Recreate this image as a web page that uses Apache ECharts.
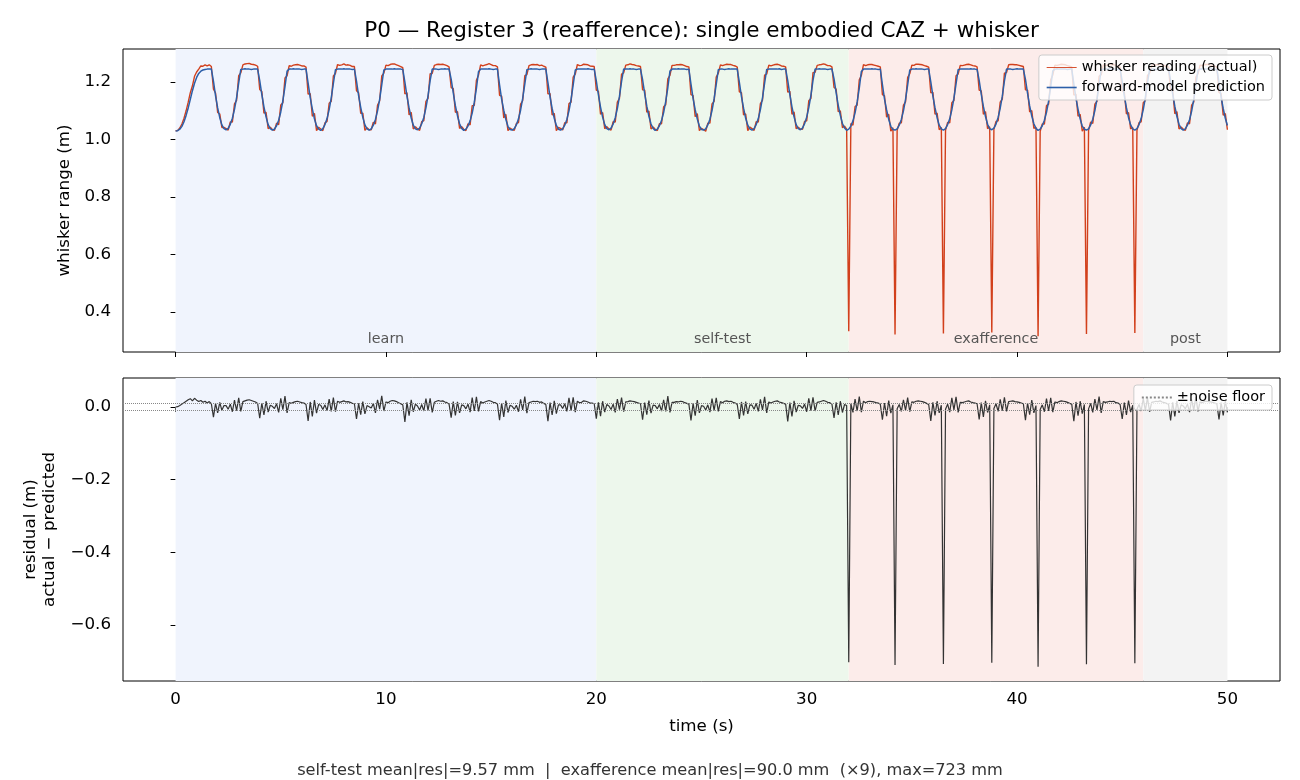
<!DOCTYPE html>
<html>
<head>
    <meta charset="utf-8">
    <title>P0 reafference</title>
    <script src="https://cdn.jsdelivr.net/npm/echarts@6.0.0/dist/echarts.min.js"></script>
    <style type="text/css">
        body{ margin:0; background:#fff; }
        #main{ width:1300px; height:780px; }
    </style>
</head>
<body>
<div id="main"></div>
<script type="text/javascript">
// sample step of the traces (s)
var dt = 0.1;

// forward-model prediction (m), one line per whisk cycle
var predicted = [
    1.030,1.031,1.036,1.046,1.062,1.084,1.110,1.140,1.170,1.196,1.216,1.230,1.238,1.242,1.244,1.245,1.245,1.245,1.203,1.152,1.110,1.076,1.051,1.038,
    1.034,1.039,1.053,1.074,1.105,1.146,1.197,1.244,1.245,1.246,1.245,1.245,1.244,1.245,1.245,1.245,1.205,1.156,1.114,1.079,1.052,1.038,
    1.033,1.036,1.048,1.067,1.096,1.135,1.184,1.238,1.245,1.245,1.246,1.245,1.245,1.245,1.244,1.245,1.245,1.196,1.146,1.107,1.072,1.048,1.036,
    1.032,1.038,1.052,1.073,1.104,1.145,1.195,1.243,1.245,1.245,1.245,1.246,1.245,1.245,1.245,1.244,1.245,1.203,1.153,1.112,1.077,1.051,1.037,
    1.033,1.037,1.050,1.070,1.100,1.140,1.190,1.242,1.245,1.245,1.245,1.245,1.246,1.245,1.245,1.245,1.244,1.200,1.150,1.110,1.075,1.050,1.037,
    1.034,1.040,1.055,1.077,1.110,1.152,1.205,1.245,1.245,1.245,1.244,1.245,1.245,1.246,1.245,1.245,1.210,1.162,1.118,1.083,1.055,1.039,
    1.032,1.036,1.047,1.065,1.092,1.130,1.178,1.236,1.245,1.245,1.245,1.245,1.246,1.245,1.244,1.245,1.245,1.190,1.140,1.102,1.070,1.046,1.035,
    1.033,1.038,1.051,1.072,1.102,1.143,1.193,1.243,1.245,1.246,1.245,1.245,1.245,1.244,1.245,1.245,1.245,1.198,1.148,1.108,1.074,1.049,1.036,
    1.033,1.037,1.050,1.070,1.100,1.140,1.190,1.242,1.245,1.245,1.245,1.245,1.245,1.246,1.245,1.244,1.245,1.204,1.155,1.113,1.078,1.052,1.038,
    1.034,1.040,1.054,1.076,1.108,1.150,1.202,1.245,1.245,1.245,1.246,1.245,1.245,1.244,1.245,1.245,1.208,1.160,1.116,1.081,1.054,1.039,
    1.032,1.036,1.048,1.066,1.094,1.133,1.181,1.238,1.245,1.245,1.245,1.246,1.245,1.245,1.245,1.244,1.245,1.193,1.143,1.104,1.071,1.047,1.035,
    1.033,1.037,1.051,1.071,1.101,1.142,1.192,1.243,1.245,1.245,1.244,1.245,1.246,1.245,1.245,1.245,1.245,1.199,1.149,1.109,1.074,1.050,1.037,
    1.033,1.038,1.052,1.073,1.104,1.145,1.196,1.244,1.245,1.245,1.245,1.245,1.245,1.246,1.244,1.245,1.245,1.205,1.156,1.114,1.079,1.052,1.038,
    1.034,1.040,1.055,1.078,1.111,1.153,1.206,1.245,1.245,1.246,1.245,1.245,1.245,1.244,1.245,1.245,1.211,1.163,1.119,1.084,1.056,1.040,
    1.032,1.036,1.047,1.065,1.093,1.131,1.179,1.237,1.245,1.245,1.245,1.245,1.246,1.245,1.245,1.244,1.245,1.191,1.141,1.103,1.070,1.046,1.035,
    1.033,1.037,1.050,1.070,1.100,1.140,1.190,1.242,1.245,1.245,1.246,1.245,1.245,1.245,1.244,1.245,1.245,1.201,1.151,1.111,1.076,1.050,1.037,
    1.033,1.038,1.052,1.072,1.103,1.144,1.194,1.243,1.245,1.245,1.245,1.245,1.245,1.246,1.245,1.245,1.244,1.206,1.157,1.115,1.080,1.053,1.038,
    1.034,1.040,1.054,1.077,1.109,1.151,1.204,1.245,1.245,1.245,1.244,1.245,1.246,1.245,1.245,1.245,1.209,1.161,1.117,1.082,1.055,1.039,
    1.032,1.036,1.048,1.067,1.095,1.134,1.183,1.239,1.245,1.246,1.245,1.245,1.245,1.245,1.244,1.245,1.245,1.194,1.144,1.105,1.072,1.047,1.036,
    1.033,1.037,1.051,1.071,1.101,1.141,1.191,1.242,1.245,1.245,1.245,1.246,1.245,1.245,1.245,1.244,1.245,1.202,1.152,1.111,1.076,1.051,1.037,
    1.033,1.038,1.052,1.073,1.104,1.146,1.197,1.244,1.245,1.245,1.244,1.245,1.245,1.246,1.245,1.245,1.245,1.207,1.158,1.116,1.080,1.053,1.038,
    1.033,1.037,1.050,1.069,1.099,1.139,1.189,1.241,1.245,1.245,1.245,1.245,1.246,1.245,1.245,1.244,1.245,1.198,1.148,1.108,1.074,1.049
];

// residual actual - predicted (m), same cycles; the big dips are the exafference pokes
var residual = [
    0.000,0.001,0.004,0.008,0.012,0.016,0.020,0.023,0.017,0.024,0.019,0.015,0.018,0.013,0.016,0.011,0.015,0.009,-0.028,0.010,-0.016,0.013,-0.009,0.004,
    0.004,-0.006,0.008,-0.013,0.019,-0.010,0.025,-0.012,0.015,0.017,0.019,0.020,0.018,0.016,0.014,0.010,-0.031,0.011,-0.022,0.016,-0.014,0.005,
    0.002,-0.004,0.009,-0.015,0.024,-0.007,0.030,-0.016,0.012,0.010,0.013,0.015,0.016,0.014,0.012,0.011,0.007,-0.038,0.014,-0.026,0.019,-0.017,0.007,
    0.005,-0.007,0.006,-0.010,0.022,-0.012,0.026,-0.013,0.016,0.013,0.015,0.017,0.014,0.015,0.013,0.010,0.009,-0.033,0.010,-0.021,0.015,-0.019,0.004,
    0.001,-0.003,0.010,-0.016,0.020,-0.006,0.031,-0.011,0.014,0.012,0.016,0.018,0.017,0.015,0.012,0.009,0.006,-0.041,0.013,-0.024,0.020,-0.013,0.008,
    0.003,-0.008,0.007,-0.011,0.023,-0.009,0.024,-0.015,0.013,0.016,0.018,0.016,0.017,0.014,0.012,0.008,-0.029,0.015,-0.023,0.014,-0.016,0.006,
    0.004,-0.005,0.008,-0.014,0.026,-0.011,0.028,-0.012,0.015,0.011,0.014,0.016,0.018,0.016,0.013,0.012,0.008,-0.036,0.011,-0.027,0.018,-0.015,0.005,
    0.002,-0.006,0.005,-0.013,0.021,-0.008,0.029,-0.017,0.012,0.014,0.016,0.015,0.016,0.013,0.014,0.010,0.007,-0.039,0.012,-0.022,0.017,-0.018,0.006,
    0.006,-0.004,0.009,-0.012,0.025,-0.010,0.027,-0.014,0.016,0.012,0.013,0.017,0.016,0.014,0.011,0.011,0.009,-0.032,0.013,-0.025,0.016,-0.014,0.007,
    0.003,-0.007,0.008,-0.015,0.022,-0.007,0.026,-0.013,0.014,0.015,0.017,0.016,0.015,0.013,0.011,0.009,-0.035,0.012,-0.021,0.018,-0.017,0.005,
    0.004,-0.005,0.007,-0.011,0.020,-0.012,0.030,-0.015,0.013,0.013,0.015,0.014,0.016,0.015,0.012,0.010,0.008,-0.037,0.010,-0.024,0.019,-0.016,0.004,
    0.002,-0.008,0.006,-0.014,0.023,-0.009,0.025,-0.012,0.015,0.012,0.016,0.017,0.015,0.016,0.013,0.011,0.007,-0.033,0.014,-0.023,0.015,-0.019,0.006,
    0.005,-0.006,0.010,-0.012,0.021,-0.008,0.028,-0.016,0.014,0.011,0.014,0.016,0.017,0.014,0.012,0.010,0.008,-0.040,0.012,-0.026,0.017,-0.014,0.005,
    0.003,-0.004,0.008,-0.013,0.024,-0.010,0.027,-0.011,0.013,0.014,0.016,0.018,0.016,0.013,0.012,0.008,-0.030,0.013,-0.022,0.016,-0.015,0.007,
    0.004,-0.703,0.009,-0.015,0.022,-0.011,0.029,-0.014,0.016,0.012,0.015,0.016,0.015,0.014,0.012,0.011,0.008,-0.035,0.011,-0.025,0.018,-0.017,0.006,
    -0.711,-0.005,0.007,-0.012,0.020,-0.009,0.026,-0.013,0.014,0.013,0.016,0.017,0.016,0.015,0.013,0.010,0.007,-0.038,0.013,-0.023,0.016,-0.016,0.005,
    -0.708,-0.006,0.008,-0.014,0.025,-0.008,0.028,-0.015,0.013,0.012,0.014,0.016,0.017,0.014,0.012,0.011,0.009,-0.034,0.012,-0.027,0.017,-0.015,0.006,
    -0.705,-0.004,0.009,-0.012,0.021,-0.010,0.027,-0.012,0.015,0.016,0.017,0.015,0.014,0.013,0.011,0.009,-0.036,0.011,-0.021,0.019,-0.016,0.004,
    -0.716,-0.007,0.006,-0.013,0.023,-0.011,0.025,-0.014,0.014,0.012,0.015,0.017,0.016,0.015,0.013,0.010,0.008,-0.039,0.014,-0.024,0.016,-0.018,0.007,
    -0.709,-0.005,0.010,-0.015,0.022,-0.008,0.029,-0.016,0.015,0.013,0.014,0.016,0.015,0.016,0.012,0.011,0.007,-0.033,0.012,-0.022,0.018,-0.014,0.005,
    -0.706,-0.006,0.007,-0.011,0.024,-0.010,0.026,-0.013,0.013,0.014,0.016,0.015,0.017,0.014,0.012,0.010,0.008,-0.037,0.013,-0.026,0.017,-0.016,0.006,
    0.003,-0.005,0.008,-0.014,0.021,-0.009,0.028,-0.012,0.014,0.012,0.015,0.016,0.015,0.014,0.013,0.011,0.008,-0.034,0.012,-0.023,0.016,-0.015
];

var noiseFloor = 0.005;

// experiment phases (s)
var phaseNames  = ['learn', 'self-test', 'exafference', 'post'];
var phaseStarts = [0, 20, 32, 46];
var phaseEnds   = [20, 32, 46, 50];

// tick values
var xTicks      = [0, 10, 20, 30, 40, 50];
var yTicksTop   = [0.4, 0.6, 0.8, 1.0, 1.2];
var yTicksBot   = [-0.6, -0.4, -0.2, 0.0];

var footer = 'self-test mean|res|=9.57 mm  |  exafference mean|res|=90.0 mm  (\u00d79), max=723 mm';

if (predicted.length !== residual.length) {
    throw new Error('length mismatch ' + predicted.length + ' vs ' + residual.length);
}

var phaseColors = ['#f0f4fd', '#edf7ec', '#fcecea', '#f3f3f3'];
var FONT = 'DejaVu Sans';
var RED = '#d2401c', BLUE = '#2c5fa9';

var actualData = [], predData = [], residData = [];
for (var i = 0; i < predicted.length; i++) {
    var t = Math.round(i * dt * 10) / 10;
    actualData.push([t, +(predicted[i] + residual[i]).toFixed(4)]);
    predData.push([t, predicted[i]]);
    residData.push([t, residual[i]]);
}

function phaseAreas(withLabels) {
    var out = [];
    for (var k = 0; k < phaseNames.length; k++) {
        out.push([
            { xAxis: phaseStarts[k], name: withLabels ? phaseNames[k] : '', itemStyle: { color: phaseColors[k] } },
            { xAxis: phaseEnds[k] }
        ]);
    }
    return out;
}

function fmt(v) {
    return v.toFixed(1).replace('-', '\u2212');
}

var tickStyle = { show: true, length: 5, lineStyle: { color: '#000', width: 1 } };
var labelStyle = { color: '#000', fontSize: 16.7, fontFamily: FONT };
var nameStyle = { fontSize: 16.7, color: '#000', fontFamily: FONT };
// hide the dot that echarts puts on line-series legend icons
var noDot = { color: 'transparent', borderColor: 'transparent', borderWidth: 0 };
var legendBox = {
    orient: 'vertical', right: 28, z: 20,
    itemWidth: 30, itemHeight: 10, itemGap: 5,
    padding: [5, 7, 5, 7],
    backgroundColor: 'rgba(255,255,255,0.8)', borderColor: '#cccccc', borderWidth: 1, borderRadius: 3,
    itemStyle: noDot,
    textStyle: { fontSize: 14.5, color: '#000', fontFamily: FONT }
};

var myChart = echarts.init(document.getElementById('main'));
var option = {
    animation: false,
    textStyle: { fontFamily: FONT },
    graphic: [
        { type: 'text', x: 701.5, y: 31, style: { text: 'P0 \u2014 Register 3 (reafference): single embodied CAZ + whisker',
            fontSize: 21.5, fontFamily: FONT, fill: '#000', textAlign: 'center', textVerticalAlign: 'middle' } },
        { type: 'text', x: 650, y: 771, style: { text: footer,
            fontSize: 16.2, fontFamily: FONT, fill: '#333', textAlign: 'center', textVerticalAlign: 'middle' } }
    ],
    grid: [
        { left: 123, top: 49, width: 1157, height: 303, show: true, borderColor: '#000', borderWidth: 1, backgroundColor: 'transparent' },
        { left: 123, top: 378, width: 1157, height: 303, show: true, borderColor: '#000', borderWidth: 1, backgroundColor: 'transparent' }
    ],
    legend: [
        Object.assign({}, legendBox, {
            top: 55,
            data: [
                { name: 'whisker reading (actual)', lineStyle: { width: 0.9 } },
                { name: 'forward-model prediction', lineStyle: { width: 1.6 } }
            ]
        }),
        Object.assign({}, legendBox, {
            top: 385,
            data: [{ name: '\u00b1noise floor' }]
        })
    ],
    xAxis: [
        { type: 'value', gridIndex: 0, min: -2.5, max: 52.5,
          axisLine: { show: false }, splitLine: { show: false },
          axisTick: Object.assign({ customValues: xTicks }, tickStyle),
          axisLabel: { show: false, customValues: xTicks } },
        { type: 'value', gridIndex: 1, min: -2.5, max: 52.5,
          name: 'time (s)', nameLocation: 'middle', nameGap: 37, nameTextStyle: nameStyle,
          axisLine: { show: false }, splitLine: { show: false },
          axisTick: Object.assign({ customValues: xTicks }, tickStyle),
          axisLabel: Object.assign({ customValues: xTicks, margin: 10 }, labelStyle) }
    ],
    yAxis: [
        { type: 'value', gridIndex: 0, min: 0.261, max: 1.315,
          name: 'whisker range (m)', nameLocation: 'middle', nameGap: 50, nameTextStyle: nameStyle,
          axisLine: { show: false }, splitLine: { show: false },
          axisTick: Object.assign({ customValues: yTicksTop }, tickStyle),
          axisLabel: Object.assign({ customValues: yTicksTop, margin: 12, formatter: fmt }, labelStyle) },
        { type: 'value', gridIndex: 1, min: -0.755, max: 0.08,
          name: 'residual (m)\nactual \u2212 predicted', nameLocation: 'middle', nameGap: 64,
          nameTextStyle: Object.assign({ lineHeight: 19 }, nameStyle),
          axisLine: { show: false }, splitLine: { show: false },
          axisTick: Object.assign({ customValues: yTicksBot }, tickStyle),
          axisLabel: Object.assign({ customValues: yTicksBot, margin: 12, formatter: fmt }, labelStyle) }
    ],
    series: [
        {
            name: 'whisker reading (actual)', type: 'line', xAxisIndex: 0, yAxisIndex: 0,
            data: actualData, showSymbol: false, symbol: 'none', z: 3,
            lineStyle: { color: RED, width: 1.4 }, itemStyle: { color: RED },
            markArea: {
                silent: true,
                label: { show: true, position: 'insideBottom', distance: 6, color: '#555', fontSize: 14.3, fontFamily: FONT },
                data: phaseAreas(true)
            }
        },
        {
            name: 'forward-model prediction', type: 'line', xAxisIndex: 0, yAxisIndex: 0,
            data: predData, showSymbol: false, symbol: 'none', z: 4,
            lineStyle: { color: BLUE, width: 1.5 }, itemStyle: { color: BLUE }
        },
        {
            name: 'residual', type: 'line', xAxisIndex: 1, yAxisIndex: 1,
            data: residData, showSymbol: false, symbol: 'none', z: 3,
            lineStyle: { color: '#333333', width: 1.2 }, itemStyle: { color: '#333333' },
            markArea: { silent: true, label: { show: false }, data: phaseAreas(false) }
        },
        {
            name: '\u00b1noise floor', type: 'line', xAxisIndex: 1, yAxisIndex: 1,
            data: [], showSymbol: false, symbol: 'none', z: 4,
            lineStyle: { color: '#888888', width: 1, type: 'dotted' }, itemStyle: { color: '#888888' },
            markLine: {
                silent: true, symbol: 'none', label: { show: false },
                lineStyle: { color: '#888888', width: 1, type: 'dotted' },
                data: [{ yAxis: noiseFloor }, { yAxis: -noiseFloor }]
            }
        }
    ]
};
myChart.setOption(option);
</script>
</body>
</html>
